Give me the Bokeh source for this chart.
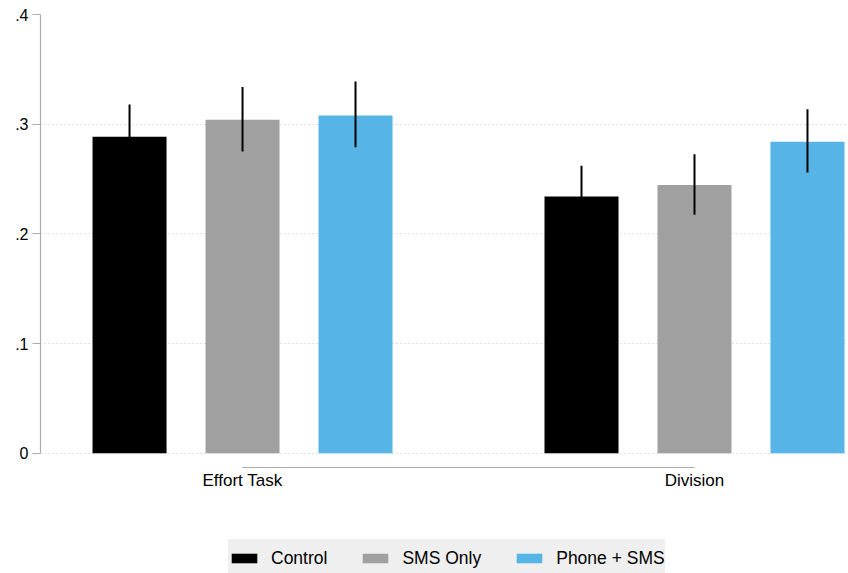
from bokeh.plotting import figure
from bokeh.models import (ColumnDataSource, FixedTicker, Range1d, Legend, LegendItem)
from bokeh.embed import file_html
from bokeh.resources import INLINE

groups = ["Effort Task", "Division"]
series = ["Control", "SMS Only", "Phone + SMS"]
colors = ["#000000", "#a0a0a0", "#56b4e7"]
# means and 95% CI bounds, per series, per group
means = {
    "Control":     [0.2885, 0.234],
    "SMS Only":    [0.304, 0.2445],
    "Phone + SMS": [0.308, 0.284],
}
lower = {
    "Control":     [0.259, 0.207],
    "SMS Only":    [0.275, 0.2175],
    "Phone + SMS": [0.279, 0.256],
}
upper = {
    "Control":     [0.318, 0.262],
    "SMS Only":    [0.334, 0.2725],
    "Phone + SMS": [0.339, 0.3135],
}
y_ticks = [0, 0.1, 0.2, 0.3, 0.4]
y_tick_labels = ["0", ".1", ".2", ".3", ".4"]

FONT = "Liberation Sans"
n = len(series)
step = n + 1
X_AXIS_Y = -0.013

p = figure(width=848, height=573, output_backend="svg", toolbar_location=None,
           x_range=Range1d(-0.788, 6.363), y_range=Range1d(-0.1097, 0.4))
p.min_border_left = 40
p.min_border_right = 0
p.min_border_top = 14
p.min_border_bottom = 0
p.outline_line_color = None
p.background_fill_color = "white"
p.border_fill_color = "white"

legend_items = []
for si, s in enumerate(series):
    xs = [gi * step + si for gi in range(len(groups))]
    src = ColumnDataSource(dict(x=xs, top=means[s], lo=lower[s], hi=upper[s]))
    r = p.vbar(x="x", top="top", bottom=0, width=0.655, source=src,
               fill_color=colors[si], line_color=None)
    legend_items.append(LegendItem(label=s, renderers=[r]))
    p.segment(x0="x", y0="lo", x1="x", y1="hi", source=src,
              line_color="black", line_width=2)

# grid
p.xgrid.visible = False
p.ygrid.ticker = FixedTicker(ticks=y_ticks[:-1])
p.ygrid.grid_line_color = "#c4c4c4"
p.ygrid.grid_line_dash = "1 3"
p.ygrid.grid_line_width = 1

# y axis
ya = p.yaxis[0]
ya.ticker = FixedTicker(ticks=y_ticks)
ya.major_label_overrides = {t: l for t, l in zip(y_ticks, y_tick_labels)}
ya.bounds = (0, 0.4)
ya.axis_line_color = "#acacac"
ya.axis_line_width = 1.2
ya.major_tick_line_color = "#acacac"
ya.major_tick_out = 8
ya.major_tick_in = 0
ya.minor_tick_line_color = None
ya.major_label_standoff = 4
ya.major_label_text_font = FONT
ya.major_label_text_font_size = "16px"
ya.major_label_text_color = "black"

# x axis (drawn just below zero, spanning group centres)
xa = p.xaxis[0]
centers = [gi * step + (n - 1) / 2 for gi in range(len(groups))]
xa.ticker = FixedTicker(ticks=centers)
xa.major_label_overrides = {c: g for c, g in zip(centers, groups)}
xa.bounds = (centers[0], centers[-1])
xa.fixed_location = X_AXIS_Y
xa.axis_line_color = "#acacac"
xa.axis_line_width = 1.2
xa.major_tick_line_color = None
xa.major_tick_out = 0
xa.major_tick_in = 0
xa.minor_tick_line_color = None
xa.major_label_standoff = 4
xa.major_label_text_font = FONT
xa.major_label_text_font_size = "17px"
xa.major_label_text_color = "black"

legend = Legend(items=legend_items, orientation="horizontal",
                location=(188, -4))
legend.background_fill_color = "#efefef"
legend.background_fill_alpha = 1
legend.border_line_color = None
legend.glyph_width = 32
legend.glyph_height = 12
legend.label_standoff = 11
legend.spacing = 32
legend.padding = 7
legend.margin = 0
legend.label_height = 38
legend.label_text_font = FONT
legend.label_text_font_size = "17.5px"
legend.label_text_color = "black"
p.add_layout(legend, "center")

open("out.html", "w").write(file_html(p, INLINE))
